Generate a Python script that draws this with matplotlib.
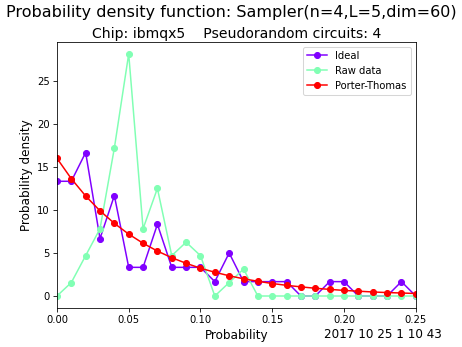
import numpy as np
import matplotlib
matplotlib.use("Agg")
import matplotlib.pyplot as plt

# probability bins
probs = [0.00, 0.01, 0.02, 0.03, 0.04, 0.05, 0.06, 0.07, 0.08, 0.09,
         0.10, 0.11, 0.12, 0.13, 0.14, 0.15, 0.16, 0.17, 0.18, 0.19,
         0.20, 0.21, 0.22, 0.23, 0.24, 0.25]

ideal = [13.33, 13.33, 16.67, 6.67, 11.67, 3.33, 3.33, 8.33, 3.33, 3.33,
         3.33, 1.67, 5.0, 1.67, 1.67, 1.67, 1.67, 0.0, 0.0, 1.67,
         1.67, 0.0, 0.0, 0.0, 1.67, 0.0]

raw = [0.0, 1.56, 4.69, 7.81, 17.19, 28.13, 7.81, 12.5, 4.69, 6.25,
       4.69, 0.0, 1.56, 3.13, 0.0, 0.0, 0.0, 0.0, 0.0, 0.0,
       0.0, 0.0, 0.0, 0.0, 0.0, 0.0]

porter = [16.0, 13.63, 11.62, 9.90, 8.44, 7.19, 6.13, 5.22, 4.45, 3.80,
          3.23, 2.76, 2.35, 2.00, 1.71, 1.45, 1.24, 1.06, 0.90, 0.77,
          0.65, 0.56, 0.47, 0.40, 0.35, 0.29]

cmap = plt.get_cmap("rainbow")

fig = plt.figure(figsize=(6.4, 4.8), dpi=72.34)
ax = fig.add_axes([0.123, 0.112, 0.775, 0.767])

ax.plot(probs, ideal, "o-", color=cmap(0.0), label="Ideal")
ax.plot(probs, raw, "o-", color=cmap(0.5), label="Raw data")
ax.plot(probs, porter, "o-", color=cmap(1.0), label="Porter-Thomas")

ax.set_xlim(0, 0.25)
ax.set_yticks([0, 5, 10, 15, 20, 25])
ax.set_xlabel("Probability", fontsize=12)
ax.set_ylabel("Probability density", fontsize=12)
ax.set_title("Chip: ibmqx5    Pseudorandom circuits: 4", fontsize=14, pad=4)
fig.suptitle("Probability density function: Sampler(n=4,L=5,dim=60)", fontsize=16, y=0.985)
ax.legend(loc="upper right")

fig.text(0.955, 0.028, "2017 10 25 1 10 43", fontsize=12, ha="right")

fig.savefig("out.png", dpi=72.34)
